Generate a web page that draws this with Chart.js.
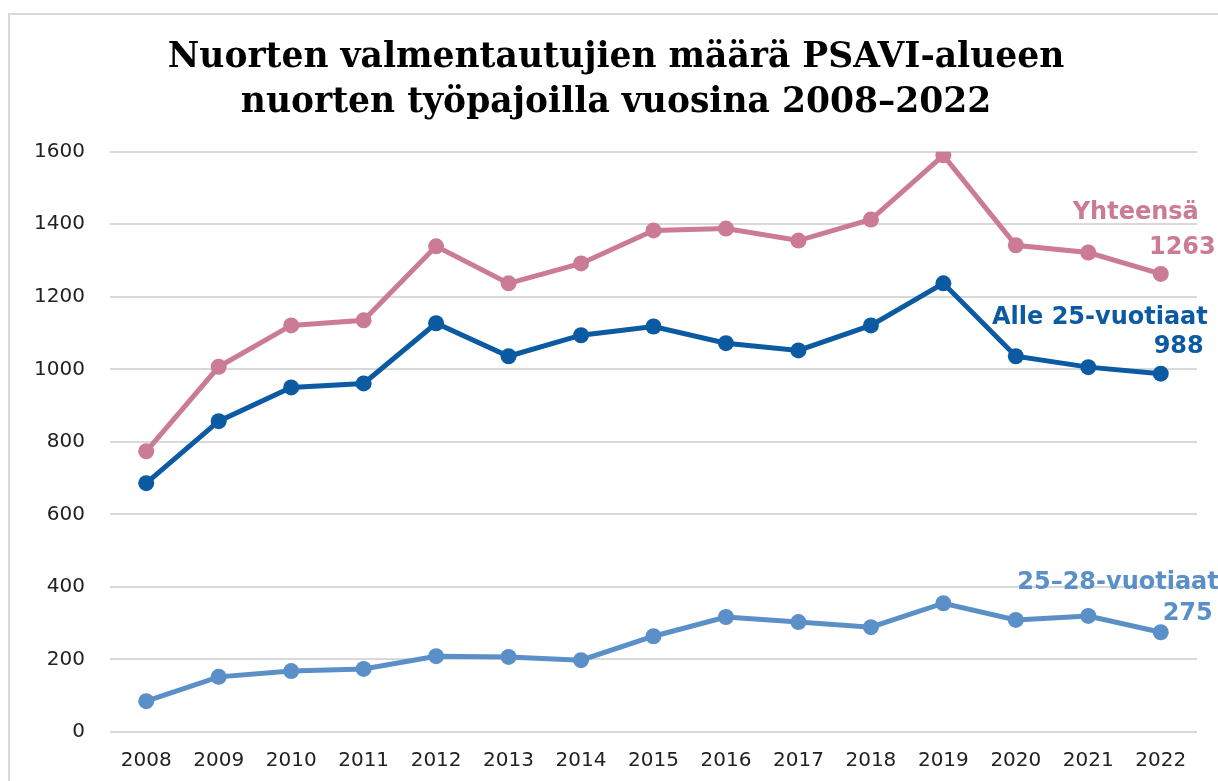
<!DOCTYPE html>
<html>
<head>
<meta charset="utf-8">
<script src="https://cdn.jsdelivr.net/npm/chart.js@4.4.1/dist/chart.umd.min.js"></script>
<style>
  html, body { margin: 0; padding: 0; background: #fff; overflow: hidden; }
  #frame { position: absolute; left: 8px; top: 13px; width: 1230px; height: 790px; border: 2px solid #d9d9d9; box-sizing: border-box; }
  #wrap { position: absolute; left: 0; top: 0; width: 1218px; height: 781px; }
</style>
</head>
<body>
<div id="frame"></div>
<div id="wrap"><canvas id="chart" width="1218" height="781"></canvas></div>
<script>
const years = ['2008','2009','2010','2011','2012','2013','2014','2015','2016','2017','2018','2019','2020','2021','2022'];
const total = [774, 1007, 1121, 1135, 1339, 1237, 1292, 1383, 1388, 1355, 1413, 1590, 1342, 1322, 1263];
const under25 = [686, 857, 950, 961, 1127, 1036, 1094, 1118, 1072, 1052, 1121, 1237, 1036, 1006, 988];
const age25to28 = [85, 152, 168, 174, 209, 207, 198, 264, 317, 303, 289, 355, 309, 320, 275];
const seriesNames = ['Yhteensä', 'Alle 25-vuotiaat', '25–28-vuotiaat'];
const titleLines = ['Nuorten valmentautujien määrä PSAVI-alueen', 'nuorten työpajoilla vuosina 2008–2022'];

const pink = '#CB7B96';
const darkBlue = '#0B5AA2';
const lightBlue = '#5B8FC7';

// end labels: series name with the last value under it, right aligned near the last point
const endLabels = {
    id: 'endLabels',
    afterDatasetsDraw(chart) {
        const ctx = chart.ctx;
        ctx.save();
        ctx.font = 'bold 24px "DejaVu Sans", Verdana, sans-serif';
        ctx.textAlign = 'right';
        ctx.textBaseline = 'middle';
        // [name dy, name dx, value dy, value dx]
        const offsets = [[-61, 38, -26, 55], [-56, 47, -27, 43], [-49, 58, -18, 52]];
        chart.data.datasets.forEach((ds, i) => {
            const last = ds.data.length - 1;
            const pt = chart.getDatasetMeta(i).data[last];
            const o = offsets[i];
            ctx.fillStyle = ds.borderColor;
            ctx.fillText(ds.label, pt.x + o[1], pt.y + o[0]);
            ctx.fillText(String(ds.data[last]), pt.x + o[3], pt.y + o[2]);
        });
        ctx.restore();
    }
};

new Chart(document.getElementById('chart'), {
    type: 'line',
    data: {
        labels: years,
        datasets: [
            { label: seriesNames[0], data: total, borderColor: pink, backgroundColor: pink },
            { label: seriesNames[1], data: under25, borderColor: darkBlue, backgroundColor: darkBlue },
            { label: seriesNames[2], data: age25to28, borderColor: lightBlue, backgroundColor: lightBlue }
        ]
    },
    options: {
        responsive: false,
        animation: false,
        elements: {
            line: { borderWidth: 5, tension: 0 },
            point: { radius: 8, hoverRadius: 8, borderWidth: 0 }
        },
        layout: { padding: { left: 35, right: 21, top: 36, bottom: 9 } },
        plugins: {
            legend: { display: false },
            tooltip: { enabled: false },
            title: {
                display: true,
                text: titleLines,
                color: '#000',
                font: { family: '"DejaVu Serif", Georgia, serif', size: 34.5, weight: 'bold', lineHeight: 1.3 },
                padding: { top: 0, bottom: 26 }
            }
        },
        scales: {
            x: {
                offset: true,
                afterFit(scale) { scale.height = 40; },
                grid: { display: false },
                border: { display: false },
                ticks: { color: '#222', font: { family: '"DejaVu Sans", Verdana, sans-serif', size: 20 }, padding: 9, maxRotation: 0 }
            },
            y: {
                min: 0,
                max: 1600,
                afterFit(scale) { scale.width = 75; },
                ticks: {
                    stepSize: 200,
                    color: '#222',
                    font: { family: '"DejaVu Sans", Verdana, sans-serif', size: 20 },
                    padding: 25,
                    callback: v => String(v)
                },
                grid: { color: '#d9d9d9', lineWidth: 2, drawTicks: false },
                border: { display: false }
            }
        }
    },
    plugins: [endLabels]
});
</script>
</body>
</html>
